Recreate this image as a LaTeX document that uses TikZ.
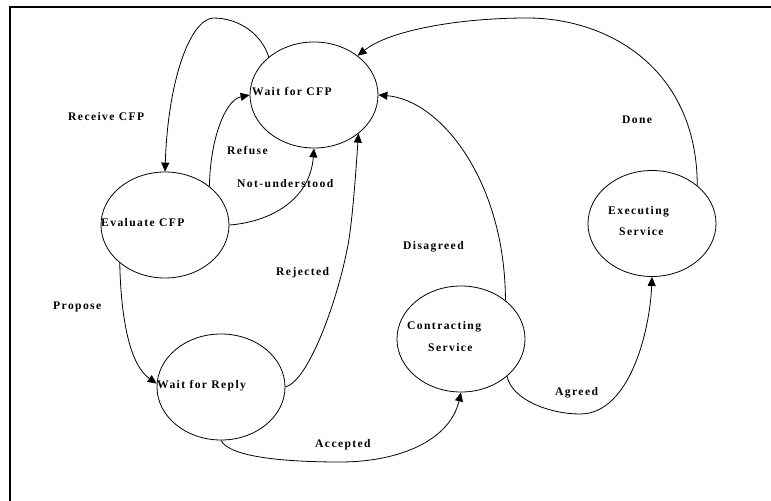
\documentclass[tikz,border=0pt]{standalone}
\usepackage{fontspec}
\newfontfamily\lblfont{Liberation Serif}[LetterSpace=12]
\usetikzlibrary{shapes.geometric,arrows.meta}
\tikzset{
  state/.style={draw, ellipse, minimum width=128bp, minimum height=106bp, inner sep=0pt, line width=0.8bp},
  lbl/.style={font=\lblfont\bfseries\fontsize{11.6bp}{13bp}\selectfont, inner sep=0pt, anchor=base west},
  edge/.style={draw, line width=0.8bp, -{Triangle[length=9bp,width=8bp]}}
}
\begin{document}
\begin{tikzpicture}[x=1bp, y=-1bp]
\useasboundingbox (0,0) rectangle (771,501);
\draw[line width=2bp] (10,501) -- (10,7.5) -- (771,7.5);
% states
\node[state] (wcfp) at (314,95) {};
\node[state] (eval) at (165,225) {};
\node[state] (wrep) at (221,387) {};
\node[state] (cont) at (461,339) {};
\node[state] (exec) at (652,223.5) {};
% state texts
\node[lbl] (twcfp) at (252,96) {Wait for CFP};
\node[lbl] (teval) at (101,227) {Evaluate CFP};
\node[lbl] (twrep) at (157,388) {Wait for Reply};
\node[lbl] (tcont1) at (407,329) {Contracting};
\node[lbl] (tcont2) at (428,351) {Service};
\node[lbl] (texec1) at (608,215) {Executing};
\node[lbl] (texec2) at (619,236) {Service};
% edge labels
\node[lbl] (lrec) at (68,120.5) {Receive CFP};
\node[lbl] (lref) at (227,155) {Refuse};
\node[lbl] (lnot) at (237,188) {Not-understood};
\node[lbl] (lpro) at (53,309) {Propose};
\node[lbl] (lrej) at (276,276) {Rejected};
\node[lbl] (lacc) at (315,447) {Accepted};
\node[lbl] (ldis) at (403,250) {Disagreed};
\node[lbl] (lagr) at (555,395) {Agreed};
\node[lbl] (ldon) at (622,124) {Done};
% edges
\path[edge] (wcfp.140) .. controls (262,35) and (240,18) .. (213,18)
  .. controls (190,20) and (168,80) .. (eval.90);
\path[edge] (eval.41) .. controls (210,140) and (225,100) .. (wcfp.180);
\path[edge] (eval.0) .. controls (270,222) and (310,200) .. (wcfp.270);
\path[edge] (eval.220) .. controls (121,320) and (130,365) .. (wrep.177);
\path[edge] (wrep.0) .. controls (308,381) and (336,305) .. (347,250)
  .. controls (352,228) and (356,170) .. (wcfp.319);
\path[edge] (wrep.270) .. controls (230,458) and (290,462) .. (340,462)
  .. controls (400,462) and (450,440) .. (cont.270);
\path[edge] (cont.41.5) .. controls (505,180) and (440,100) .. (wcfp.0);
\path[edge] (cont.321) .. controls (512,400) and (550,414) .. (580,414)
  .. controls (630,414) and (650,330) .. (exec.270);
\path[edge] (exec.40) .. controls (697,70) and (610,18) .. (527,18)
  .. controls (460,18) and (390,30) .. (wcfp.42);
\end{tikzpicture}
\end{document}
